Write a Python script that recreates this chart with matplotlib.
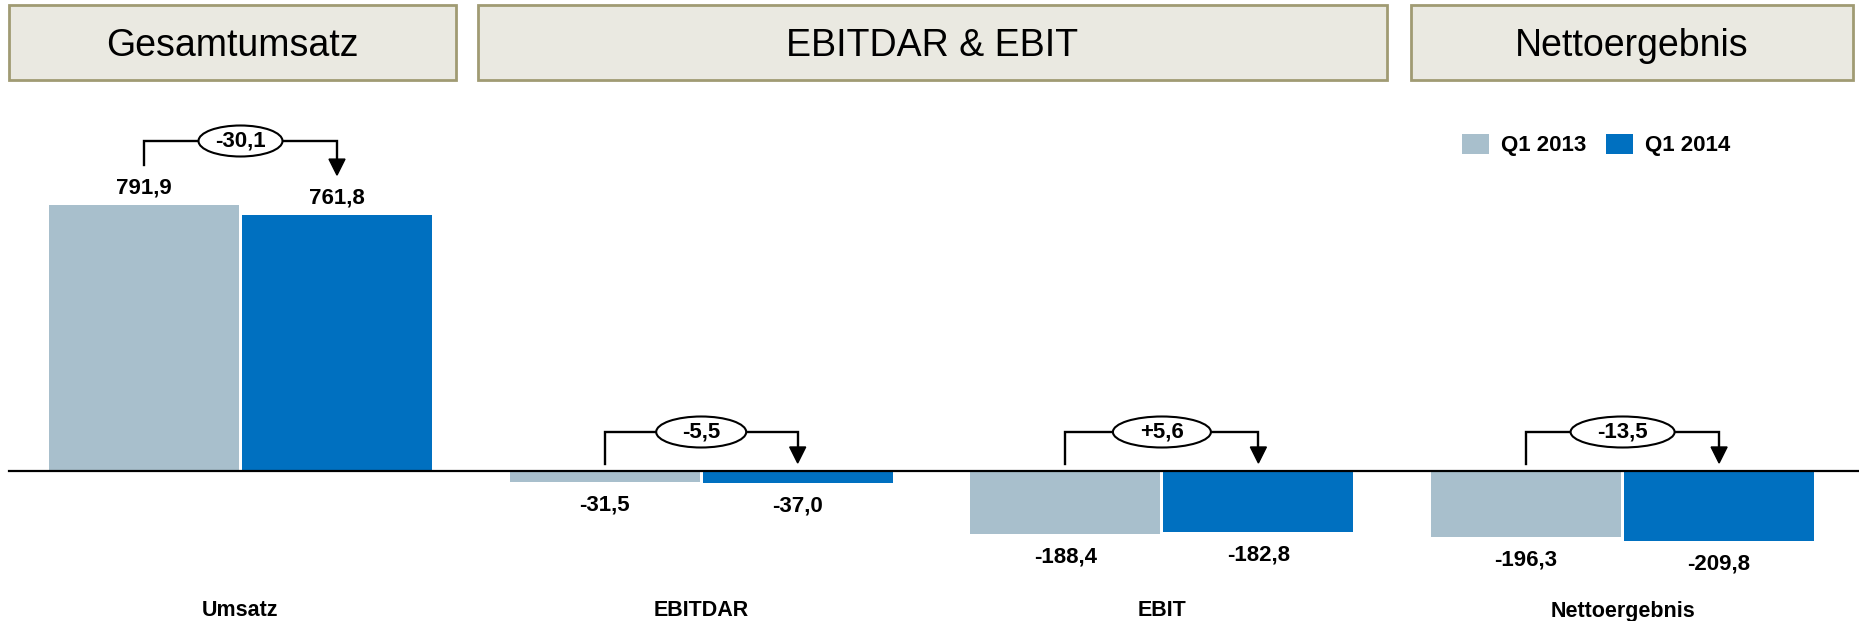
import matplotlib
matplotlib.use("Agg")
import matplotlib.pyplot as plt
import matplotlib.patches as patches
import numpy as np

plt.rcParams['font.family'] = ['Liberation Sans', 'DejaVu Sans']

# ------------------ Data ------------------ #
categories = ["Umsatz", "EBITDAR", "EBIT", "Nettoergebnis"]
q1_2013 = [791.9, -31.5, -188.4, -196.3]
q1_2014 = [761.8, -37.0, -182.8, -209.8]
deltas = ["-30,1", "-5,5", "+5,6", "-13,5"]
series_names = ["Q1 2013", "Q1 2014"]
sections = ["Gesamtumsatz", "EBITDAR & EBIT", "Nettoergebnis"]

c_2013 = "#a8bfcc"
c_2014 = "#0070c0"

def fmt(v):
    return f"{v:.1f}".replace(".", ",")

# ------------------ Geometry (pixels of the 1859x621 canvas) ------------------ #
W, H = 1859, 621
Y0 = 471                     # pixel row of the zero line
PX_PER_UNIT = 266 / 791.9    # vertical scale
GROUP_PX = 460.7             # distance between category centres
FIRST_PX = 240.5             # centre of first category
px = 1 / PX_PER_UNIT         # one pixel in data units (y)
pxx = 1 / GROUP_PX           # one pixel in data units (x)

fig = plt.figure(figsize=(W / 100, H / 100), dpi=100)
ax = fig.add_axes([0, 0, 1, 1])
ax.set_xlim(-FIRST_PX / GROUP_PX, (W - FIRST_PX) / GROUP_PX)
ax.set_ylim(-(H - Y0) * px, Y0 * px)
ax.axis("off")

x = np.arange(len(categories))
bw = 190 * pxx
off = 96.5 * pxx
ax.bar(x - off, q1_2013, width=bw, color=c_2013, zorder=2)
ax.bar(x + off, q1_2014, width=bw, color=c_2014, zorder=2)

# zero line
ax.axhline(0, xmin=9 / W, xmax=1, color="black", lw=1.6, zorder=3)

# value labels
for xs, vals in [(x - off, q1_2013), (x + off, q1_2014)]:
    for xi, v in zip(xs, vals):
        ax.annotate(fmt(v), (xi, v), xytext=(0, 5 if v > 0 else -9),
                    textcoords="offset points", ha="center",
                    va="bottom" if v > 0 else "top", fontsize=16, fontweight="bold")

# category labels
for xi, name in zip(x, categories):
    ax.text(xi, -(611 - Y0) * px, name, ha="center", va="center",
            fontsize=15.5, fontweight="bold")

# delta brackets
ell_w = [84, 90, 98, 104]
for i, (a, b, d) in enumerate(zip(q1_2013, q1_2014, deltas)):
    base_a = max(a, 0) + (40 if a > 0 else 7) * px
    base_b = max(b, 0) + (40 if b > 0 else 8) * px
    top = max(base_a, base_b) + (24 if max(a, b) > 0 else 31) * px
    xa, xb = x[i] - off, x[i] + off
    ax.plot([xa, xa, xb, xb], [base_a, top, top, base_b + 15 * px],
            color="black", lw=1.7, zorder=4, solid_joinstyle="miter")
    ax.fill([xb - 8 * pxx, xb + 8 * pxx, xb],
            [base_b + 16 * px, base_b + 16 * px, base_b],
            color="black", zorder=4)
    ax.add_patch(patches.Ellipse((x[i], top), ell_w[i] * pxx, 31 * px,
                                 facecolor="white", edgecolor="black", lw=1.5, zorder=5))
    ax.text(x[i], top, d, ha="center", va="center", fontsize=16,
            fontweight="bold", zorder=6)

# ------------------ Overlay: section headers and legend ------------------ #
ov = fig.add_axes([0, 0, 1, 1])
ov.set_xlim(0, W)
ov.set_ylim(H, 0)
ov.axis("off")
ov.patch.set_visible(False)

box_x = [(9.5, 456), (478, 1387), (1411, 1853)]
for (x1, x2), name in zip(box_x, sections):
    ov.add_patch(patches.Rectangle((x1, 5), x2 - x1, 75, facecolor="#eae9e1",
                                   edgecolor="#a09b73", lw=2))
    ov.text((x1 + x2) / 2, 46, name, ha="center", va="center", fontsize=27)

for lx, col, name in zip([1462, 1606], [c_2013, c_2014], series_names):
    ov.add_patch(patches.Rectangle((lx, 134), 27, 20, facecolor=col, edgecolor="none"))
    ov.text(lx + 39, 145, name, ha="left", va="center", fontsize=16, fontweight="bold")

plt.savefig("out.png", dpi=100)
